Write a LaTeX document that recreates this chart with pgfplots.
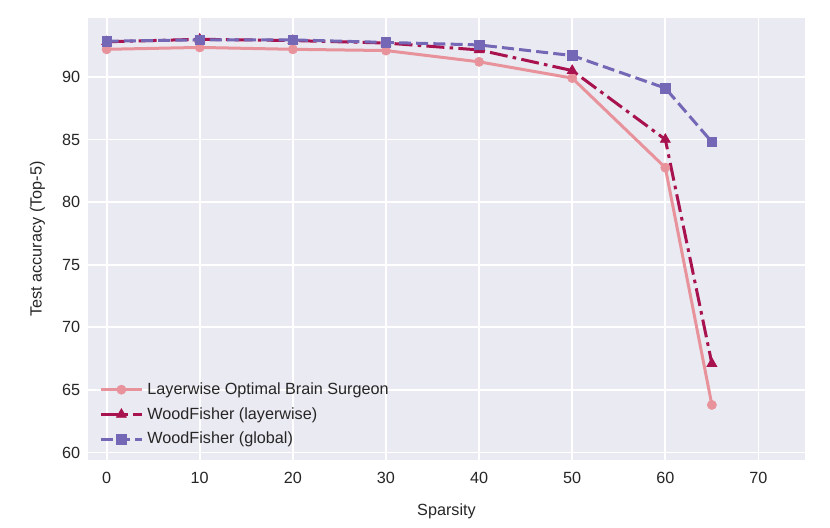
\documentclass[border=0pt]{standalone}
\usepackage{fontspec}
\setmainfont{Liberation Sans}
\usepackage{pgfplots}
\pgfplotsset{compat=1.18}
\definecolor{bgc}{HTML}{EAEAF2}
\definecolor{obs}{HTML}{E8939C}
\definecolor{wfl}{HTML}{A8124E}
\definecolor{wfg}{HTML}{7468B6}
\definecolor{txt}{HTML}{262626}
\begin{document}
\fontsize{8.1pt}{9.7pt}\selectfont
\begin{tikzpicture}
\useasboundingbox (-44pt,-33.5pt) rectangle (371pt,230pt);
\begin{axis}[
  scale only axis, width=358.5pt, height=221pt,
  xmin=-2, xmax=75, ymin=59.4, ymax=94.7,
  axis background/.style={fill=bgc},
  axis line style={draw=none},
  xtick={0,10,...,70}, ytick={60,65,...,90},
  tick style={draw=none},
  grid=major, major grid style={white, line width=0.9pt},
  tick label style={font=\fontsize{8.1pt}{9.7pt}\selectfont, text=txt},
  /pgf/number format/assume math mode=true,
  xticklabel style={yshift=-3pt},
  yticklabel style={xshift=-1pt},
  xlabel={Sparsity}, ylabel={Test accuracy (Top-5)},
  label style={font=\fontsize{8.1pt}{9.7pt}\selectfont, text=txt},
  xlabel style={yshift=-4.5pt},
  ylabel style={yshift=3pt},
  legend style={draw=none, fill=none, at={(0.007,0.012)}, anchor=south west,
    font=\fontsize{8.1pt}{9.7pt}\selectfont, text=txt, row sep=1.3pt},
  legend cell align=left,
  legend image code/.code={
    \draw[mark repeat=2,mark phase=2] plot coordinates {(0cm,0cm) (0.36cm,0cm) (0.72cm,0cm)};
  },
]
\addplot[obs, line width=1.5pt, mark=*, mark size=2.3pt, mark options={solid, line width=0.3pt, fill=obs, draw=obs}]
coordinates {(0,92.2) (10,92.35) (20,92.2) (30,92.1) (40,91.2) (50,89.9) (60,82.75) (65,63.8)};
\addlegendentry{Layerwise Optimal Brain Surgeon}
\addplot[wfl, line width=1.5pt, dash pattern=on 9pt off 2.6pt on 1.8pt off 2.6pt, mark=triangle*, mark size=2.9pt, mark options={solid, line width=0.3pt, fill=wfl, draw=wfl}]
coordinates {(0,92.8) (10,93.0) (20,92.9) (30,92.7) (40,92.15) (50,90.5) (60,85.0) (65,67.1)};
\addlegendentry{WoodFisher (layerwise)}
\addplot[wfg, line width=1.5pt, dash pattern=on 6pt off 2.6pt, mark=square*, mark size=2.4pt, mark options={solid, line width=0.3pt, fill=wfg, draw=wfg}]
coordinates {(0,92.85) (10,92.95) (20,92.95) (30,92.75) (40,92.55) (50,91.7) (60,89.1) (65,84.8)};
\addlegendentry{WoodFisher (global)}
\end{axis}
\end{tikzpicture}
\end{document}
